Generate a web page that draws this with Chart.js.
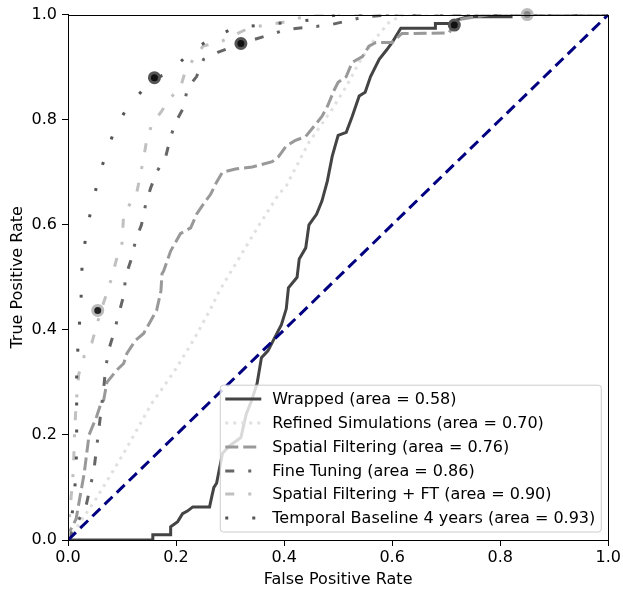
<!DOCTYPE html>
<html>
<head>
<meta charset="utf-8">
<script src="https://cdn.jsdelivr.net/npm/chart.js@4.4.0/dist/chart.umd.min.js"></script>
<style>
  html, body { margin: 0; padding: 0; background: #fff; }
</style>
</head>
<body>
<canvas id="roc" width="623" height="590"></canvas>
<script>
// ROC curves (false positive rate / true positive rate)
const wrappedFpr = [0, 0.157, 0.157, 0.19, 0.19, 0.203, 0.212, 0.221, 0.231, 0.262, 0.266, 0.27, 0.275, 0.286, 0.30, 0.32, 0.33, 0.34, 0.35, 0.358, 0.37, 0.385, 0.395, 0.404, 0.408, 0.424, 0.428, 0.44, 0.446, 0.46, 0.47, 0.48, 0.489, 0.50, 0.515, 0.526, 0.539, 0.55, 0.56, 0.576, 0.59, 0.60, 0.616, 0.68, 0.68, 0.714, 0.72, 0.74, 0.82, 0.82, 1.0];
const wrappedTpr = [0, 0, 0.01, 0.01, 0.025, 0.035, 0.05, 0.055, 0.063, 0.063, 0.082, 0.10, 0.108, 0.165, 0.18, 0.195, 0.24, 0.266, 0.298, 0.347, 0.36, 0.39, 0.41, 0.44, 0.48, 0.50, 0.535, 0.556, 0.60, 0.62, 0.645, 0.683, 0.73, 0.77, 0.776, 0.806, 0.845, 0.852, 0.882, 0.915, 0.933, 0.947, 0.974, 0.974, 0.983, 0.983, 0.99, 0.996, 0.996, 1.0, 1.0];

const refinedFpr = [0, 0.02, 0.053, 0.103, 0.155, 0.196, 0.232, 0.264, 0.28, 0.317, 0.354, 0.39, 0.404, 0.446, 0.489, 0.515, 0.539, 0.563, 0.594, 0.62, 1.0];
const refinedTpr = [0, 0.03, 0.08, 0.165, 0.26, 0.32, 0.38, 0.44, 0.474, 0.537, 0.60, 0.658, 0.674, 0.757, 0.82, 0.863, 0.909, 0.947, 0.985, 1.0, 1.0];

const spatialFpr = [0, 0.005, 0.015, 0.03, 0.039, 0.053, 0.061, 0.066, 0.072, 0.09, 0.103, 0.109, 0.125, 0.14, 0.153, 0.164, 0.172, 0.174, 0.177, 0.19, 0.208, 0.227, 0.238, 0.251, 0.264, 0.275, 0.286, 0.31, 0.341, 0.378, 0.39, 0.404, 0.42, 0.44, 0.455, 0.47, 0.48, 0.493, 0.50, 0.515, 0.526, 0.545, 0.557, 0.57, 0.60, 0.618, 0.705, 0.72, 0.78, 1.0];
const spatialTpr = [0, 0.02, 0.04, 0.127, 0.2, 0.235, 0.26, 0.266, 0.30, 0.323, 0.336, 0.355, 0.38, 0.393, 0.417, 0.437, 0.474, 0.507, 0.512, 0.55, 0.583, 0.594, 0.62, 0.64, 0.658, 0.681, 0.70, 0.706, 0.71, 0.72, 0.73, 0.75, 0.76, 0.768, 0.787, 0.806, 0.825, 0.857, 0.871, 0.882, 0.909, 0.92, 0.94, 0.947, 0.947, 0.964, 0.965, 0.99, 1.0, 1.0];

const tuningFpr = [0, 0.01, 0.033, 0.048, 0.057, 0.066, 0.07, 0.076, 0.085, 0.094, 0.103, 0.107, 0.118, 0.125, 0.136, 0.144, 0.153, 0.164, 0.181, 0.19, 0.199, 0.214, 0.221, 0.238, 0.251, 0.277, 0.32, 0.406, 0.483, 0.55, 0.6, 1.0];
const tuningTpr = [0, 0.02, 0.063, 0.133, 0.21, 0.288, 0.33, 0.364, 0.395, 0.43, 0.465, 0.503, 0.537, 0.57, 0.60, 0.64, 0.67, 0.70, 0.73, 0.767, 0.795, 0.823, 0.86, 0.882, 0.915, 0.928, 0.945, 0.972, 0.98, 0.996, 1.0, 1.0];

const spatialFtFpr = [0, 0.004, 0.01, 0.012, 0.015, 0.02, 0.03, 0.044, 0.053, 0.061, 0.072, 0.081, 0.09, 0.1, 0.103, 0.127, 0.133, 0.14, 0.146, 0.155, 0.173, 0.19, 0.208, 0.218, 0.25, 0.284, 0.336, 0.406, 0.45, 1.0];
const spatialFtTpr = [0, 0.06, 0.133, 0.2, 0.26, 0.316, 0.35, 0.375, 0.408, 0.437, 0.47, 0.50, 0.535, 0.565, 0.62, 0.66, 0.69, 0.727, 0.763, 0.79, 0.816, 0.842, 0.861, 0.895, 0.94, 0.949, 0.975, 0.987, 1.0, 1.0];

const temporalFpr = [0, 0.01, 0.015, 0.016, 0.016, 0.02, 0.024, 0.026, 0.033, 0.044, 0.057, 0.072, 0.09, 0.116, 0.149, 0.164, 0.19, 0.223, 0.262, 0.308, 0.45, 0.5, 1.0];
const temporalTpr = [0, 0.066, 0.13, 0.194, 0.326, 0.393, 0.455, 0.522, 0.579, 0.636, 0.69, 0.742, 0.789, 0.833, 0.867, 0.88, 0.89, 0.926, 0.953, 0.975, 0.99, 1.0, 1.0];

const chanceFpr = [0, 1];
const chanceTpr = [0, 1];

// threshold markers
const darkMarkerFpr = [0.16, 0.32, 0.715];
const darkMarkerTpr = [0.88, 0.945, 0.98];
const lightMarkerFpr = [0.055];
const lightMarkerTpr = [0.437];
const greyMarkerFpr = [0.85];
const greyMarkerTpr = [1.0];

const seriesLabels = [
  'Wrapped (area = 0.58)',
  'Refined Simulations (area = 0.70)',
  'Spatial Filtering (area = 0.76)',
  'Fine Tuning (area = 0.86)',
  'Spatial Filtering + FT (area = 0.90)',
  'Temporal Baseline 4 years (area = 0.93)'
];
const axisTicks = [0, 0.2, 0.4, 0.6, 0.8, 1.0];

const FONT = 'DejaVu Sans';
const FONT_SIZE = 16;

function pts(xs, ys) {
  return xs.map((x, i) => ({ x: x, y: ys[i] }));
}

function curve(label, xs, ys, color, dash, order) {
  return {
    type: 'line',
    label: label,
    data: pts(xs, ys),
    borderColor: color,
    backgroundColor: color,
    borderWidth: 3,
    borderDash: dash,
    borderCapStyle: 'butt',
    borderJoinStyle: 'miter',
    pointRadius: 0,
    tension: 0,
    fill: false,
    order: order,
    inLegend: true
  };
}

function marker(label, xs, ys, fillCol, ringCol) {
  return {
    type: 'scatter', label: label, data: pts(xs, ys),
    pointRadius: 5, pointBorderWidth: 3, pointBackgroundColor: fillCol, pointBorderColor: ringCol,
    showLine: false, clip: false, order: 1
  };
}

// legend drawn inside the plot, lower right like the original
const legendBox = {
  id: 'legendBox',
  afterDraw(chart) {
    const ctx = chart.ctx;
    const area = chart.chartArea;
    const items = chart.data.datasets.filter(d => d.inLegend);
    ctx.save();
    ctx.font = FONT_SIZE + 'px "' + FONT + '"';
    const textW = Math.max(...items.map(d => ctx.measureText(d.label).width));
    const rowH = 23.8;
    const w = 52 + textW + 6;
    const h = items.length * rowH + 4;
    const right = area.right - 7, bottom = area.bottom - 8;
    const left = right - w, top = bottom - h;
    const r = 3;
    ctx.beginPath();
    ctx.moveTo(left + r, top);
    ctx.lineTo(right - r, top);
    ctx.arcTo(right, top, right, top + r, r);
    ctx.lineTo(right, bottom - r);
    ctx.arcTo(right, bottom, right - r, bottom, r);
    ctx.lineTo(left + r, bottom);
    ctx.arcTo(left, bottom, left, bottom - r, r);
    ctx.lineTo(left, top + r);
    ctx.arcTo(left, top, left + r, top, r);
    ctx.closePath();
    ctx.fillStyle = 'rgba(255,255,255,0.8)';
    ctx.fill();
    ctx.strokeStyle = '#cccccc';
    ctx.lineWidth = 1;
    ctx.stroke();
    items.forEach((d, i) => {
      const y = Math.round(top + 2 + rowH * (i + 0.5));
      ctx.beginPath();
      ctx.setLineDash(d.borderDash || []);
      ctx.lineCap = 'butt';
      ctx.strokeStyle = d.borderColor;
      ctx.lineWidth = d.borderWidth;
      ctx.moveTo(left + 5, y);
      ctx.lineTo(left + 41, y);
      ctx.stroke();
      ctx.setLineDash([]);
      ctx.fillStyle = '#000';
      ctx.textBaseline = 'middle';
      ctx.fillText(d.label, left + 52, y + 1);
    });
    ctx.restore();
  }
};

// top and right spines
const frame = {
  id: 'frame',
  afterDatasetsDraw(chart) {
    const a = chart.chartArea;
    const ctx = chart.ctx;
    ctx.save();
    ctx.strokeStyle = '#000';
    ctx.lineWidth = 1;
    ctx.strokeRect(Math.round(a.left) + 0.5, Math.round(a.top) + 0.5, Math.round(a.right - a.left), Math.round(a.bottom - a.top));
    ctx.restore();
  }
};

const datasets = [
  {
    type: 'line', label: 'chance', data: pts(chanceFpr, chanceTpr),
    borderColor: '#000080', borderWidth: 3, borderDash: [11, 6], borderCapStyle: 'butt',
    pointRadius: 0, fill: false, order: 0
  },
  marker('dark markers', darkMarkerFpr, darkMarkerTpr, '#111', '#555'),
  marker('light markers', lightMarkerFpr, lightMarkerTpr, '#222', '#bbb'),
  marker('grey markers', greyMarkerFpr, greyMarkerTpr, '#888', '#bbb'),
  curve(seriesLabels[0], wrappedFpr, wrappedTpr, '#444444', [], 7),
  curve(seriesLabels[1], refinedFpr, refinedTpr, '#e0e0e0', [3, 5], 6),
  curve(seriesLabels[2], spatialFpr, spatialTpr, '#999999', [13, 5], 5),
  curve(seriesLabels[3], tuningFpr, tuningTpr, '#666666', [9, 14, 3, 14], 4),
  curve(seriesLabels[4], spatialFtFpr, spatialFtTpr, '#c0c0c0', [9, 14, 3, 14], 3),
  curve(seriesLabels[5], temporalFpr, temporalTpr, '#555555', [3, 24], 2)
];

const tickFont = { family: FONT, size: FONT_SIZE };

new Chart(document.getElementById('roc'), {
  data: { datasets: datasets },
  options: {
    responsive: false,
    devicePixelRatio: 1,
    animation: false,
    layout: { padding: { top: 13, right: 13, left: 0, bottom: 0 } },
    plugins: {
      legend: { display: false },
      tooltip: { enabled: false }
    },
    scales: {
      x: {
        type: 'linear', min: 0, max: 1,
        afterBuildTicks: s => { s.ticks = axisTicks.map(v => ({ value: v })); },
        afterFit: s => { s.height = 50; },
        ticks: { callback: v => v.toFixed(1), font: tickFont, color: '#000', padding: 2, maxRotation: 0 },
        grid: { drawOnChartArea: false, color: '#000', tickLength: 6 },
        border: { color: '#000', width: 1 },
        title: { display: true, text: 'False Positive Rate', font: tickFont, color: '#000', padding: { top: 0, bottom: 1 } }
      },
      y: {
        type: 'linear', min: 0, max: 1,
        afterBuildTicks: s => { s.ticks = axisTicks.map(v => ({ value: v })); },
        afterFit: s => { s.width = 68; },
        ticks: { callback: v => v.toFixed(1), font: tickFont, color: '#000', padding: 5 },
        grid: { drawOnChartArea: false, color: '#000', tickLength: 6 },
        border: { color: '#000', width: 1 },
        title: { display: true, text: 'True Positive Rate', font: tickFont, color: '#000', padding: { top: 8, bottom: 0 } }
      }
    }
  },
  plugins: [frame, legendBox]
});
</script>
</body>
</html>
